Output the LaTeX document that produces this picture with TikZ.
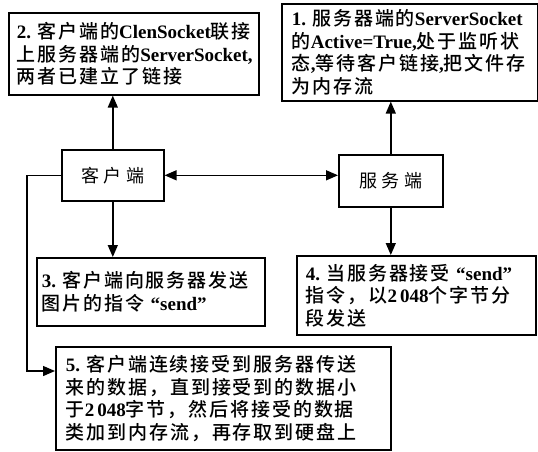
\documentclass[tikz,border=0pt]{standalone}
\usepackage{fontspec}
\usetikzlibrary{arrows.meta}
\newfontfamily\cjk[LetterSpace=10,UprightFont=* Medium]{Noto Sans CJK SC}
\newfontfamily\cjkwide[LetterSpace=25]{Noto Sans CJK SC}
\newfontfamily\lat{Liberation Serif}
\newcommand\lt[1]{{\lat\bfseries #1}}
\begin{document}
\begin{tikzpicture}[x=1pt,y=-1pt,
  box/.style={draw,line width=1.6pt,rectangle,anchor=north west,align=left,
    font=\cjk\fontsize{19}{22.5}\selectfont,inner ysep=2pt},
  mid/.style={draw,line width=1.6pt,rectangle,anchor=north west,
    font=\cjkwide\fontsize{18}{20}\selectfont},
  arr/.style={line width=1.4pt,-{Triangle[length=12pt,width=10pt]}},
  darr/.style={line width=1.4pt,{Triangle[length=12pt,width=10pt]}-{Triangle[length=12pt,width=10pt]}}]
\useasboundingbox (0,0) rectangle (538,451);
\node[box,minimum width=256pt,minimum height=97pt,inner xsep=10pt,text width=236pt] (b1) at (281,3)
 {\lt{1.}~服务器端的\lt{ServerSocket}\\的\lt{Active=True,}处于监听状\\态\lt{,}等待客户链接\lt{,}把文件存\\为内存流};
\node[box,minimum width=250pt,minimum height=82pt,inner xsep=8pt,text width=234pt] (b2) at (8,12)
 {\lt{2.}~客户端的\lt{ClenSocket}联接\\上服务器端的\lt{ServerSocket,}\\两者已建立了链接};
\node[mid,minimum width=102pt,minimum height=51pt] (cl) at (61,149) {客户端};
\node[mid,minimum width=104pt,minimum height=52pt] (sv) at (338,154) {服务端};
\node[box,minimum width=228pt,minimum height=68pt,inner xsep=5pt,text width=218pt] (b3) at (36,257)
 {\lt{3.}~客户端向服务器发送\\图片的指令\lt{~“send”}};
\node[box,minimum width=239pt,minimum height=79pt,inner xsep=9pt,text width=221pt] (b4) at (296,255)
 {\lt{4.}~当服务器接受\lt{~“send”}\\指令，以\lt{2\,048}个字节分\\段发送};
\node[box,minimum width=335pt,minimum height=103pt,inner xsep=10pt,text width=315pt] (b5) at (55,346)
 {\lt{5.}~客户端连续接受到服务器传送\\来的数据，直到接受到的数据小\\于\lt{2\,048}字节，然后将接受的数据\\类加到内存流，再存取到硬盘上};
\draw[arr] (cl.north) -- (cl.north |- b2.south);
\draw[arr] (sv.north) -- (sv.north |- b1.south);
\draw[darr] (cl.east) -- (cl.east -| sv.west);
\draw[arr] (cl.south) -- (cl.south |- b3.north);
\draw[arr] (sv.south) -- (sv.south |- b4.north);
\draw[arr] (cl.west) -- ++(-34,0) |- ([yshift=-25pt]b5.north west);
\end{tikzpicture}
\end{document}
